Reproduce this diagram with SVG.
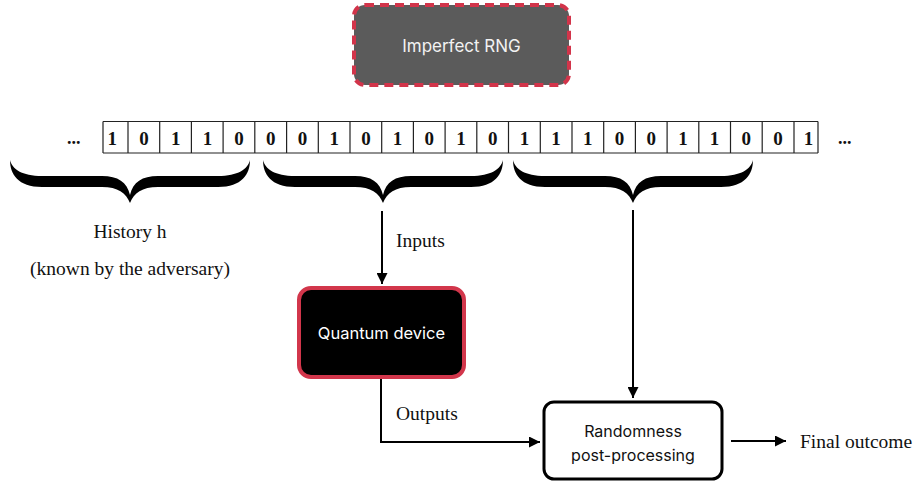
<svg xmlns="http://www.w3.org/2000/svg" xmlns:xlink="http://www.w3.org/1999/xlink" width="915" height="484" viewBox="0 0 915 484">
<style>
.serif{font-family:"Liberation Serif","Times New Roman",serif;fill:#111;}
.lbl{font-size:19.5px;}
.bit{font-size:19px;font-weight:bold;text-anchor:middle;}
.sans{font-family:Inter,"Liberation Sans",Arial,sans-serif;text-anchor:middle;}
.cell{fill:none;stroke:#222;stroke-width:1.2;}
.conn{fill:none;stroke:#000;stroke-width:2;}
</style>
<defs>
<marker id="ah" markerUnits="userSpaceOnUse" markerWidth="11" markerHeight="11" refX="11" refY="5.5" orient="auto">
<path d="M0,0 L11,5.5 L0,11 z" fill="#000"/>
</marker>
<path id="brace" fill="#000" d="M -120 0 C -120 14 -112 27 -88 27 L -28 27 C -12 27 -4 33 0 43 C 4 33 12 27 28 27 L 88 27 C 112 27 120 14 120 0 C 118 9 108 16 88 16 L 28 16 C 12 16 3 22 0 35 C -3 22 -12 16 -28 16 L -88 16 C -108 16 -118 9 -120 0 Z"/>
</defs>

<g id="rng">
<rect x="354" y="5" width="215" height="80" rx="11" fill="#5b5b5b" stroke="#d2344a" stroke-width="4" stroke-dasharray="9,6"/>
<text class="sans" x="461.5" y="52" font-size="17" fill="#f2f2f2">Imperfect RNG</text>
</g>

<g id="tape">
<line class="cell" x1="103" y1="121.5" x2="818" y2="121.5"/>
<line class="cell" x1="103" y1="153" x2="818" y2="153"/>
<path class="cell" d="M103,121.5V153 M128,121.5V153 M159.7,121.5V153 M191.4,121.5V153 M223.1,121.5V153 M254.8,121.5V153 M286.6,121.5V153 M318.3,121.5V153 M350,121.5V153 M381.7,121.5V153 M413.4,121.5V153 M445.1,121.5V153 M476.8,121.5V153 M508.5,121.5V153 M540.3,121.5V153 M572,121.5V153 M603.7,121.5V153 M635.4,121.5V153 M667.1,121.5V153 M698.8,121.5V153 M730.5,121.5V153 M762.2,121.5V153 M794,121.5V153 M818,121.5V153"/>
<g class="serif bit">
<text x="112.3" y="145">1</text>
<text x="144" y="145">0</text>
<text x="175.7" y="145">1</text>
<text x="207.4" y="145">1</text>
<text x="239.1" y="145">0</text>
<text x="270.8" y="145">0</text>
<text x="302.5" y="145">0</text>
<text x="334.2" y="145">1</text>
<text x="365.9" y="145">0</text>
<text x="397.6" y="145">1</text>
<text x="429.3" y="145">0</text>
<text x="461" y="145">1</text>
<text x="492.7" y="145">0</text>
<text x="524.4" y="145">1</text>
<text x="556.1" y="145">1</text>
<text x="587.8" y="145">1</text>
<text x="619.5" y="145">0</text>
<text x="651.2" y="145">0</text>
<text x="682.9" y="145">1</text>
<text x="714.6" y="145">1</text>
<text x="746.3" y="145">0</text>
<text x="778" y="145">0</text>
<text x="808.5" y="145">1</text>
</g>
<text class="serif" x="67" y="144" font-size="18" font-weight="bold">...</text>
<text class="serif" x="838" y="144" font-size="18" font-weight="bold">...</text>
</g>

<g id="braces">
<use xlink:href="#brace" href="#brace" transform="translate(130,160)"/>
<use xlink:href="#brace" href="#brace" transform="translate(383,160)"/>
<use xlink:href="#brace" href="#brace" transform="translate(633,160)"/>
</g>

<g id="history">
<text class="serif lbl" x="130" y="238" text-anchor="middle">History h</text>
<text class="serif lbl" x="130" y="275" text-anchor="middle">(known by the adversary)</text>
</g>

<g id="quantum">
<rect x="299" y="288" width="165" height="89" rx="12" fill="#000" stroke="#d2364b" stroke-width="4"/>
<text class="sans" x="381.5" y="339" font-size="16.5" fill="#fff">Quantum device</text>
</g>

<g id="postproc">
<rect x="544" y="402" width="178" height="77" rx="10" fill="#fff" stroke="#000" stroke-width="3"/>
<text class="sans" x="633" y="437" font-size="16" fill="#111">Randomness</text>
<text class="sans" x="633" y="461" font-size="16" fill="#111">post-processing</text>
</g>

<g id="final">
<text class="serif lbl" x="800" y="448">Final outcome</text>
</g>

<g id="connectors">
<line class="conn" x1="382" y1="211" x2="382" y2="284" marker-end="url(#ah)"/>
<text class="serif lbl" x="396" y="247">Inputs</text>
<polyline class="conn" points="381,379 381,442 540,442" marker-end="url(#ah)"/>
<text class="serif lbl" x="396" y="420">Outputs</text>
<line class="conn" x1="633" y1="210" x2="633" y2="398" marker-end="url(#ah)"/>
<line class="conn" x1="731" y1="441" x2="786" y2="441" marker-end="url(#ah)"/>
</g>
</svg>
